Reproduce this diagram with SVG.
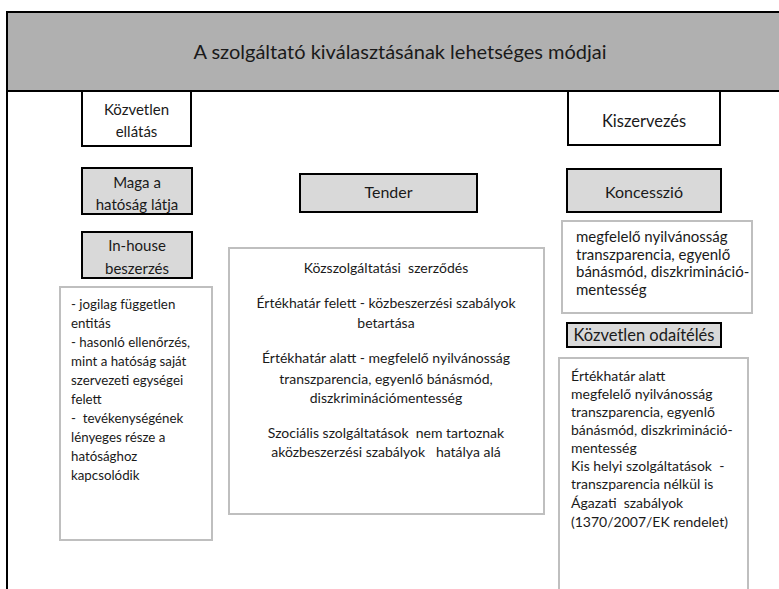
<svg xmlns="http://www.w3.org/2000/svg" width="779" height="589" viewBox="0 0 779 589">
<style>
text{font-family:Lato,"Liberation Sans",sans-serif;fill:#1a1a1a;dominant-baseline:central}
.c{text-anchor:middle}
.hd{fill:#d9d9d9;stroke:#000;stroke-width:2}
.wh{fill:#fff;stroke:#000;stroke-width:2}
.tb{fill:#fff;stroke:#bfbfbf;stroke-width:2}
.f15{font-size:15px}
.f14{font-size:14px}
.f13{font-size:13.3px}
</style>
<rect width="779" height="589" fill="#fff"/>
<g id="banner">
<rect x="7" y="12" width="790" height="79" fill="#b0b0b0" stroke="#000" stroke-width="2"/>
<line x1="7" y1="91" x2="7" y2="589" stroke="#000" stroke-width="2"/>
<text class="c" x="400" y="51" font-size="20">A szolgáltató kiválasztásának lehetséges módjai</text>
</g>
<g id="kozvetlen-ellatas">
<rect class="wh" x="82" y="91" width="109" height="55"/>
<text class="c f15" x="136.5" y="108.5">Közvetlen</text>
<text class="c f15" x="136.5" y="131">ellátás</text>
</g>
<g id="maga">
<rect class="hd" x="82" y="168" width="110" height="46"/>
<text class="c f15" x="137" y="181.5">Maga a</text>
<text class="c f15" x="137" y="204">hatóság látja</text>
</g>
<g id="inhouse">
<rect class="hd" x="82" y="232" width="110" height="46"/>
<text class="c f15" x="137" y="245">In-house</text>
<text class="c f15" x="137" y="267.5">beszerzés</text>
</g>
<g id="inhouse-list">
<rect class="tb" x="60" y="287" width="152" height="253"/>
<g class="f13">
<text x="71" y="304">- jogilag független</text>
<text x="71" y="323">entitás</text>
<text x="71" y="342">- hasonló ellenőrzés,</text>
<text x="71" y="361">mint a hatóság saját</text>
<text x="71" y="380">szervezeti egységei</text>
<text x="71" y="399">felett</text>
<text x="71" y="418" xml:space="preserve">-  tevékenységének</text>
<text x="71" y="437">lényeges része a</text>
<text x="71" y="456">hatósághoz</text>
<text x="71" y="475">kapcsolódik</text>
</g>
</g>
<g id="tender">
<rect class="hd" x="300" y="174" width="177" height="38"/>
<text class="c" x="388.5" y="191.5" font-size="16">Tender</text>
</g>
<g id="tender-info">
<rect class="tb" x="229" y="248" width="315" height="266"/>
<g class="f14">
<text class="c" x="386" y="267" xml:space="preserve">Közszolgáltatási  szerződés</text>
<text class="c" x="386" y="302">Értékhatár felett - közbeszerzési szabályok</text>
<text class="c" x="386" y="322">betartása</text>
<text class="c" x="386" y="357">Értékhatár alatt - megfelelő nyilvánosság</text>
<text class="c" x="386" y="378">transzparencia, egyenlő bánásmód,</text>
<text class="c" x="386" y="397">diszkriminációmentesség</text>
<text class="c" x="386" y="432" xml:space="preserve">Szociális szolgáltatások  nem tartoznak</text>
<text class="c" x="386" y="451" xml:space="preserve">aközbeszerzési szabályok   hatálya alá</text>
</g>
</g>
<g id="kiszervezes">
<rect class="wh" x="568" y="91" width="152" height="54"/>
<text class="c" x="644" y="121" font-size="16.5">Kiszervezés</text>
</g>
<g id="koncesszio">
<rect class="hd" x="567" y="169" width="154" height="43"/>
<text class="c" x="644" y="191" font-size="16">Koncesszió</text>
</g>
<g id="koncesszio-info">
<rect class="tb" x="562" y="221" width="190" height="92"/>
<g class="f15">
<text x="576" y="236">megfelelő nyilvánosság</text>
<text x="576" y="253.5">transzparencia, egyenlő</text>
<text x="576" y="271">bánásmód, diszkrimináció-</text>
<text x="576" y="288.5">mentesség</text>
</g>
</g>
<g id="kozvetlen-odaiteles">
<rect class="hd" x="567" y="323" width="154" height="24"/>
<text class="c" x="644" y="335" font-size="16.5">Közvetlen odaítélés</text>
</g>
<g id="odaiteles-info">
<rect class="tb" x="559" y="358" width="189" height="240"/>
<g class="f14">
<text x="571" y="375">Értékhatár alatt</text>
<text x="571" y="393">megfelelő nyilvánosság</text>
<text x="571" y="411">transzparencia, egyenlő</text>
<text x="571" y="429">bánásmód, diszkrimináció-</text>
<text x="571" y="447">mentesség</text>
<text x="571" y="465" xml:space="preserve">Kis helyi szolgáltatások  -</text>
<text x="571" y="483">transzparencia nélkül is</text>
<text x="571" y="502" xml:space="preserve">Ágazati  szabályok</text>
<text x="571" y="521">(1370/2007/EK rendelet)</text>
</g>
</g>
<g id="connectors"></g>
</svg>
